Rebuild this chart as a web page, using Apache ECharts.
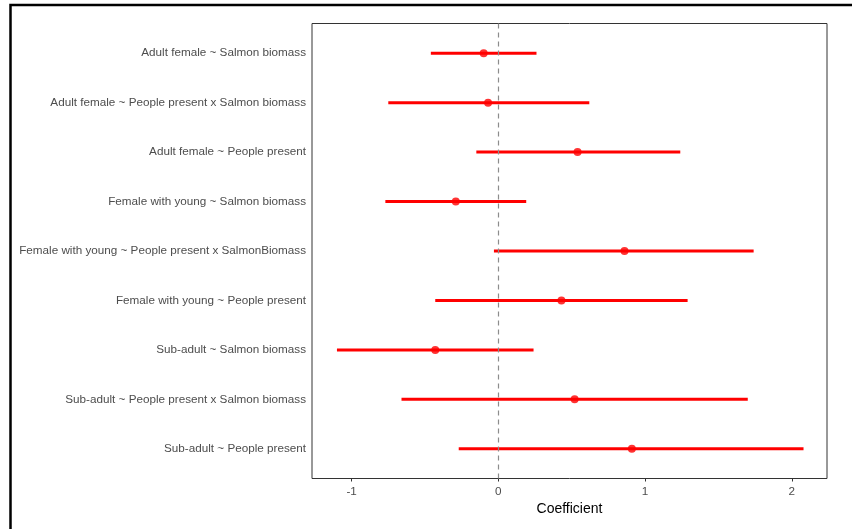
<!DOCTYPE html>
<html>
<head>
<meta charset="utf-8">
<script src="https://cdn.jsdelivr.net/npm/echarts@6/dist/echarts.min.js"></script>
<style>
  html, body { margin: 0; padding: 0; background: #fff; }
  #chart { width: 852px; height: 529px; }
</style>
</head>
<body>
<div id="chart"></div>
<script>
// Model terms, listed top to bottom
const terms = [
  'Adult female ~ Salmon biomass',
  'Adult female ~ People present x Salmon biomass',
  'Adult female ~ People present',
  'Female with young ~ Salmon biomass',
  'Female with young ~ People present x SalmonBiomass',
  'Female with young ~ People present',
  'Sub-adult ~ Salmon biomass',
  'Sub-adult ~ People present x Salmon biomass',
  'Sub-adult ~ People present'
];
// Coefficient estimates and interval bounds
const estimate = [-0.10, -0.07, 0.54, -0.29, 0.86, 0.43, -0.43, 0.52, 0.91];
const lower    = [-0.46, -0.75, -0.15, -0.77, -0.03, -0.43, -1.10, -0.66, -0.27];
const upper    = [0.26, 0.62, 1.24, 0.19, 1.74, 1.29, 0.24, 1.70, 2.08];
// x-axis tick labels
const xTicks = [-1, 0, 1, 2];

const rowIndex = terms.map((_, i) => i + 1);
const intervals = rowIndex.map((r, i) => [lower[i], upper[i], r]);
const points = rowIndex.map((r, i) => [estimate[i], r]);

const chart = echarts.init(document.getElementById('chart'), null, { renderer: 'canvas' });

const labelFont = 'Liberation Sans, Arial, sans-serif';

chart.setOption({
  animation: false,
  backgroundColor: '#ffffff',
  graphic: [{
    type: 'rect',
    shape: { x: 10.5, y: 5, width: 900, height: 600 },
    style: { fill: 'none', stroke: '#000000', lineWidth: 2.5 },
    silent: true,
    z: 100
  }],
  grid: {
    left: 312, right: 25, top: 23.5, bottom: 50.5,
    show: true, borderColor: '#333333', borderWidth: 1, backgroundColor: '#ffffff'
  },
  xAxis: {
    type: 'value',
    min: -1.27, max: 2.24,
    name: 'Coefficient',
    nameLocation: 'middle',
    nameGap: 24,
    nameTextStyle: { fontFamily: labelFont, fontSize: 14, color: '#000000' },
    axisLine: { show: false },
    axisTick: { show: true, length: 3, customValues: xTicks, lineStyle: { color: '#333333' } },
    axisLabel: { customValues: xTicks, margin: 7, fontFamily: labelFont, fontSize: 11.7, color: '#4d4d4d' },
    splitLine: { show: false }
  },
  yAxis: {
    type: 'value',
    min: 0.4, max: 9.6,
    inverse: true,
    axisLine: { show: false },
    axisTick: { show: true, length: 3, customValues: rowIndex, lineStyle: { color: '#333333' } },
    axisLabel: {
      customValues: rowIndex,
      margin: 6,
      fontFamily: labelFont, fontSize: 11.7, color: '#4d4d4d',
      formatter: v => terms[Math.round(v) - 1] || ''
    },
    splitLine: { show: false }
  },
  series: [
    {
      type: 'custom',
      data: intervals,
      encode: { x: [0, 1], y: 2 },
      renderItem: (params, api) => {
        const a = api.coord([api.value(0), api.value(2)]);
        const b = api.coord([api.value(1), api.value(2)]);
        return {
          type: 'line',
          shape: { x1: a[0], y1: a[1], x2: b[0], y2: b[1] },
          style: { stroke: '#ff0000', lineWidth: 3 }
        };
      },
      z: 3
    },
    {
      type: 'scatter',
      data: points,
      symbol: 'circle',
      symbolSize: 8,
      itemStyle: { color: '#ff0000' },
      z: 4,
      markLine: {
        silent: true,
        symbol: ['none', 'none'],
        label: { show: false },
        lineStyle: { color: '#8c8c8c', type: [5, 4], width: 1.2 },
        data: [{ xAxis: 0 }]
      }
    }
  ]
});
</script>
</body>
</html>
